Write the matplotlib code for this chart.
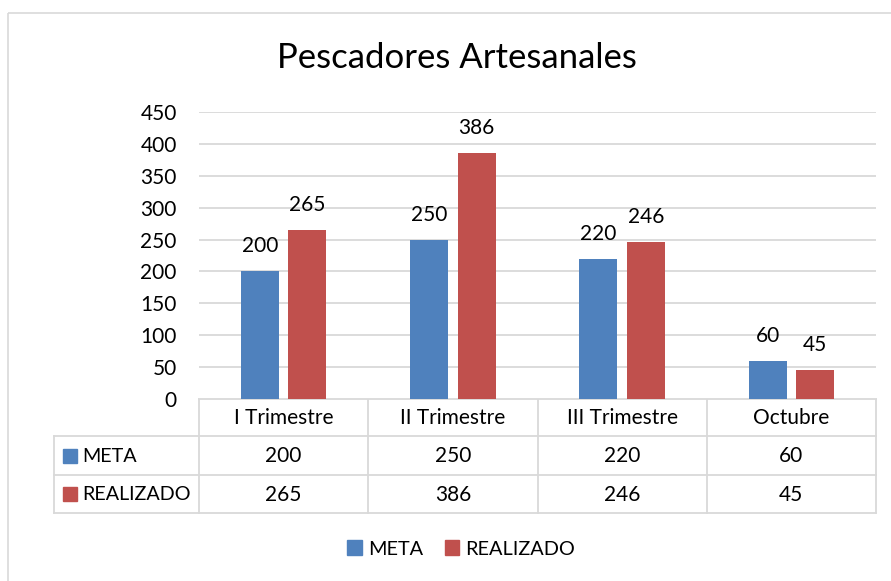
import matplotlib
matplotlib.use("Agg")
import matplotlib.pyplot as plt
from matplotlib.patches import Rectangle, Patch

# ---- data ----
categories = ["I Trimestre", "II Trimestre", "III Trimestre", "Octubre"]
series_names = ["META", "REALIZADO"]
meta = [200, 250, 220, 60]
realizado = [265, 386, 246, 45]
yticks = [0, 50, 100, 150, 200, 250, 300, 350, 400, 450]
title = "Pescadores Artesanales"

BLUE = "#4F81BD"
RED = "#C0504D"
GRID = "#D9D9D9"
FONT = ["Lato", "DejaVu Sans"]
plt.rcParams["font.family"] = FONT
FS = 15
FS_ROW = 14.2

W, H = 891, 581
fig = plt.figure(figsize=(W / 100, H / 100), dpi=100)

# pixel geometry
L, R, T, B = 199, 876, 112, 399
ax = fig.add_axes([L / W, 1 - B / H, (R - L) / W, (B - T) / H])
x = list(range(len(categories)))
bw = 0.2245
off = 0.14
ax.bar([i - off for i in x], meta, width=bw, color=BLUE, zorder=3)
ax.bar([i + off for i in x], realizado, width=bw, color=RED, zorder=3)
for i in x:
    ax.annotate(str(meta[i]), (i - off, meta[i]), xytext=(0, 18), textcoords="offset points",
                ha="center", va="center", fontsize=FS, color="black")
    ax.annotate(str(realizado[i]), (i + off, realizado[i]), xytext=(0, 18), textcoords="offset points",
                ha="center", va="center", fontsize=FS, color="black")
ax.set_xlim(-0.5, len(categories) - 0.5)
ax.set_ylim(0, 450)
ax.set_yticks(yticks)
ax.set_yticklabels([str(v) for v in yticks], fontsize=FS)
ax.tick_params(axis="y", length=0, pad=16)
ax.set_xticks([])
for s in ax.spines.values():
    s.set_visible(False)
ax.yaxis.grid(True, color=GRID, linewidth=1.3, zorder=0)
ax.set_axisbelow(True)

# overlay for table, border, title
ov = fig.add_axes([0, 0, 1, 1], zorder=-1)
ov.set_xlim(0, W)
ov.set_ylim(H, 0)
ov.axis("off")

# outer border
ov.add_patch(Rectangle((8, 13), 900, 600, fill=False, edgecolor=GRID, linewidth=1.2))

ov.text(457, 58, title, ha="center", va="center", fontsize=25, color="black")

# table
rows_y = [399, 436, 475, 513]
col_x = [L + i * (R - L) / len(categories) for i in range(len(categories) + 1)]
tl = 54
lw = 1.3
ov.plot([L, R], [rows_y[0], rows_y[0]], color=GRID, lw=lw)
for yy in rows_y[1:]:
    ov.plot([tl, R], [yy, yy], color=GRID, lw=lw)
for xx in col_x:
    ov.plot([xx, xx], [rows_y[0], rows_y[-1]], color=GRID, lw=lw)
ov.plot([tl, tl], [rows_y[1], rows_y[-1]], color=GRID, lw=lw)

for i, c in enumerate(categories):
    cx = (col_x[i] + col_x[i + 1]) / 2
    ov.text(cx, (rows_y[0] + rows_y[1]) / 2 + 1, c, ha="center", va="center", fontsize=FS)
    ov.text(cx, (rows_y[1] + rows_y[2]) / 2 + 1, str(meta[i]), ha="center", va="center", fontsize=FS)
    ov.text(cx, (rows_y[2] + rows_y[3]) / 2 + 1, str(realizado[i]), ha="center", va="center", fontsize=FS)

for k, (name, col) in enumerate(zip(series_names, [BLUE, RED])):
    cy = (rows_y[k + 1] + rows_y[k + 2]) / 2
    ov.add_patch(Rectangle((63, cy - 7), 14, 14, color=col))
    ov.text(82, cy + 1, name, ha="left", va="center", fontsize=FS_ROW)

# bottom legend
handles = [Patch(color=BLUE, label=series_names[0]), Patch(color=RED, label=series_names[1])]
fig.legend(handles=handles, loc="center", bbox_to_anchor=(461 / W, 1 - 549 / H), ncol=2,
           frameon=False, fontsize=14.3, handlelength=0.72, handleheight=0.72,
           handletextpad=0.3, columnspacing=1.1)

fig.savefig("out.png", dpi=100)
